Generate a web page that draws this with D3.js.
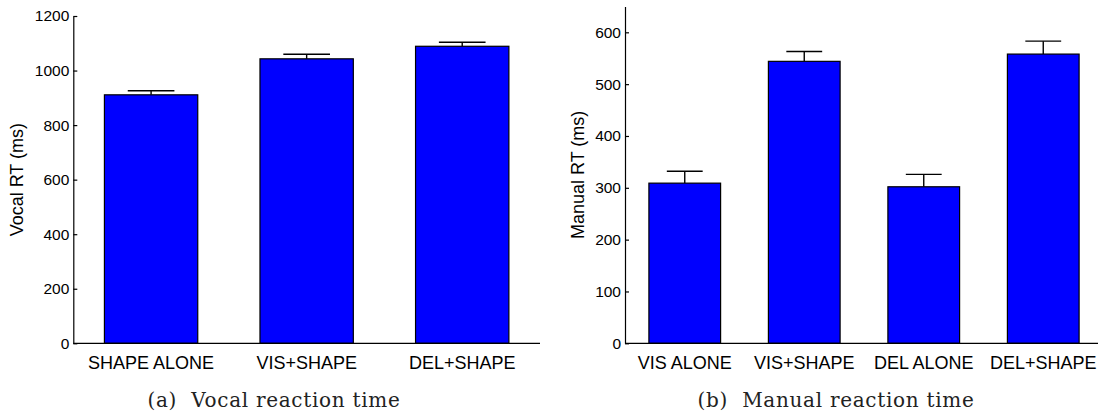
<!DOCTYPE html>
<html>
<head>
<meta charset="utf-8">
<script src="https://cdn.jsdelivr.net/npm/d3@7"></script>
<style>
  html, body { margin: 0; padding: 0; background: #fff; }
  svg { display: block; }
  .axis text { font-family: "Liberation Sans", Arial, sans-serif; fill: #000; }
  .axis path, .axis line { stroke: #000; stroke-width: 1.2; }
</style>
</head>
<body>
<svg id="chart" width="1098" height="412"></svg>
<script>
// Vocal reaction time per condition (ms), mean and standard error
const vocalCategories = ["SHAPE ALONE", "VIS+SHAPE", "DEL+SHAPE"];
const vocalMeans = [911, 1043, 1089];
const vocalErrors = [15, 17, 15];
const vocalTicks = [0, 200, 400, 600, 800, 1000, 1200];

// Manual reaction time per condition (ms), mean and standard error
const manualCategories = ["VIS ALONE", "VIS+SHAPE", "DEL ALONE", "DEL+SHAPE"];
const manualMeans = [309, 544, 302, 558];
const manualErrors = [23, 19, 24, 25];
const manualTicks = [0, 100, 200, 300, 400, 500, 600];

const svg = d3.select("#chart");

function panel(opts) {
  const { categories, means, errors, ticks, yMax, xRange, yRange, yLabel, yLabelX, caption, captionX } = opts;
  const data = categories.map((c, i) => ({ cat: c, mean: means[i], err: errors[i] }));

  const x = d3.scaleBand().domain(categories).range(xRange).paddingInner(0.4).paddingOuter(0.2);
  const y = d3.scaleLinear().domain([0, yMax]).range(yRange);

  const g = svg.append("g");

  // error bars (upper half only; drawn first so the bar covers the stem base)
  const eb = g.append("g").attr("stroke", "#000").attr("stroke-width", 1.4);
  data.forEach(d => {
    const cx = x(d.cat) + x.bandwidth() / 2;
    const half = x.bandwidth() / 4;
    eb.append("line").attr("x1", cx).attr("x2", cx).attr("y1", y(d.mean)).attr("y2", y(d.mean + d.err));
    eb.append("line").attr("x1", cx - half).attr("x2", cx + half).attr("y1", y(d.mean + d.err)).attr("y2", y(d.mean + d.err));
  });

  // bars
  g.append("g").selectAll("rect").data(data).join("rect")
    .attr("x", d => x(d.cat))
    .attr("width", x.bandwidth())
    .attr("y", d => y(d.mean))
    .attr("height", d => y(0) - y(d.mean))
    .attr("fill", "#0000ff")
    .attr("stroke", "#000")
    .attr("stroke-width", 1.2);

  // y axis with inward ticks
  const yAxis = g.append("g").attr("class", "axis")
    .attr("transform", `translate(${xRange[0]},0)`)
    .call(d3.axisLeft(y).tickValues(ticks).tickSizeInner(-4).tickSizeOuter(0).tickPadding(4).tickFormat(d3.format("d")));
  yAxis.selectAll("text").attr("font-size", 15.5);

  // x axis
  const xAxis = g.append("g").attr("class", "axis")
    .attr("transform", `translate(0,${yRange[0]})`)
    .call(d3.axisBottom(x).tickSize(0).tickPadding(12.5));
  xAxis.selectAll("text").attr("font-size", 18);
  xAxis.select(".domain").attr("d", `M${xRange[0]},0H${xRange[1]}`);

  // y label
  g.append("text")
    .attr("transform", `translate(${yLabelX},${(yRange[0] + yRange[1]) / 2}) rotate(-90)`)
    .attr("text-anchor", "middle")
    .attr("font-family", "Liberation Sans, Arial, sans-serif")
    .attr("font-size", 18)
    .text(yLabel);

  // caption
  g.append("text")
    .attr("x", captionX).attr("y", 407)
    .attr("text-anchor", "middle")
    .attr("font-family", "DejaVu Serif, serif")
    .attr("font-size", 20)
    .attr("letter-spacing", 0.7)
    .attr("fill", "#222")
    .attr("xml:space", "preserve")
    .style("white-space", "pre")
    .text(caption);
}

panel({
  categories: vocalCategories, means: vocalMeans, errors: vocalErrors, ticks: vocalTicks,
  yMax: 1200, xRange: [73.3, 540], yRange: [343.3, 16],
  yLabel: "Vocal RT (ms)", yLabelX: 23, caption: "(a)  Vocal reaction time", captionX: 274
});

panel({
  categories: manualCategories, means: manualMeans, errors: manualErrors, ticks: manualTicks,
  yMax: 650, xRange: [625, 1103], yRange: [343.3, 6.4],
  yLabel: "Manual RT (ms)", yLabelX: 584, caption: "(b)  Manual reaction time", captionX: 836
});
</script>
</body>
</html>
